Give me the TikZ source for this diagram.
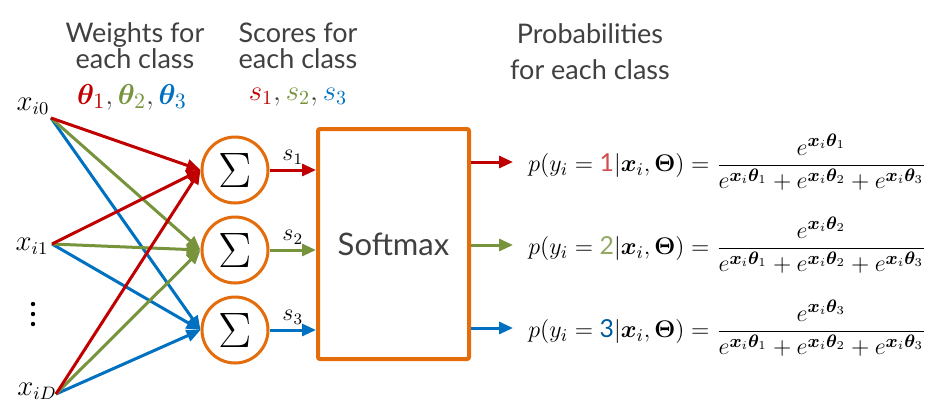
\documentclass[tikz,border=0pt]{standalone}
\usepackage{amsmath,bm}
\usepackage[no-math]{fontspec}
\newfontfamily\kopfont{Lato}
\usetikzlibrary{arrows.meta,positioning,calc}
\definecolor{rood}{HTML}{C00000}
\definecolor{groen}{HTML}{77933C}
\definecolor{blauw}{HTML}{0070C0}
\definecolor{oranje}{HTML}{E46C0A}
\definecolor{tekst}{HTML}{404040}
\tikzset{
  som/.style={circle,draw=oranje,line width=1.5pt,minimum size=33pt,inner sep=0pt,font=\fontsize{24}{24}\selectfont},
  blok/.style={draw=oranje,line width=2pt,rounded corners=1pt,minimum width=75.5pt,minimum height=115pt,font=\kopfont\fontsize{15.5}{15.5}\selectfont,text=tekst},
  pijl/.style={line width=1.5pt,-{Triangle[length=7pt,width=6pt]}},
  kop/.style={align=center,text=tekst,font=\kopfont\fontsize{13.5}{13}\selectfont},
  inv/.style={font=\fontsize{13.5}{13.5}\selectfont},
  slab/.style={font=\fontsize{12}{12}\selectfont,inner sep=2pt,text=black},
  kans/.style={anchor=west,inner xsep=7.5pt,font=\fontsize{12.4}{14}\selectfont},
}
\newcommand{\ex}[1]{e^{\bm{x}_i\bm{\theta}_{#1}}}
\newcommand{\noemer}{\ex{1}+\ex{2}+\ex{3}}

\begin{document}
\begin{tikzpicture}[x=0.5pt,y=-0.5pt]
  \useasboundingbox (0,0) rectangle (946,414);
  % kopjes
  \node[kop] (gew) at (135,46) {Weights for\\each class};
  \node[kop] (sco) at (298,46) {Scores for\\each class};
  \node[kop] (prob) at (590,52) {Probabilities\\[5pt]for each class};
  \node[font=\fontsize{15}{15}\selectfont] (thetas) at (132,97)
    {$\color{rood}\bm{\theta}_1\color{tekst},\color{groen}\bm{\theta}_2\color{tekst},\color{blauw}\bm{\theta}_3$};
  \node[font=\fontsize{14.5}{14.5}\selectfont] (scores) at (298,97)
    {$\color{rood}s_1\color{tekst},\color{groen}s_2\color{tekst},\color{blauw}s_3$};
  % invoer
  \node[inv] (x0) at (33,106) {$x_{i0}$};
  \node[inv] (x1) at (32,246) {$x_{i1}$};
  \node[inv] (xd) at (37,391) {$x_{iD}$};
  \coordinate (dots) at (33,314);
  \foreach \d in {-10,0,10}
    \fill ($(dots)+(0,\d)$) circle (2.2);
  \coordinate (i0) at (51,118);
  \coordinate (i1) at (52,244);
  \coordinate (iD) at (56,394);
  % sommen en softmax
  \node[som] (sg1) at (235,170) {$\Sigma$};
  \node[som,below=5.5pt of sg1] (sg2) {$\Sigma$};
  \node[som,below=5.5pt of sg2] (sg3) {$\Sigma$};
  \node[blok] (sm) at (393.5,244) {Softmax};
  \foreach \k/\kl in {3/blauw,2/groen,1/rood}
    \foreach \b in {i0,i1,iD}
      \draw[pijl,\kl] (\b) -- (sg\k.west);
  \draw[pijl,rood] (sg1) -- (sg1 -| sm.west) node[midway,above,slab] {$s_1$};
  \draw[pijl,groen] (sg2) -- (sg2 -| sm.west) node[midway,above,slab] {$s_2$};
  \draw[pijl,blauw] (sg3) -- (sg3 -| sm.west) node[midway,above,slab] {$s_3$};
  % kansen
  \node[kans] (p1) at (513,162)
    {$p(y_i = \text{\kopfont\color{rood!70}1}|\bm{x}_i,\bm{\Theta}) = \dfrac{\ex{1}}{\noemer}$};
  \node[kans] (p2) at (513,245)
    {$p(y_i = \text{\kopfont\color{groen!80}2}|\bm{x}_i,\bm{\Theta}) = \dfrac{\ex{2}}{\noemer}$};
  \node[kans] (p3) at (513,328)
    {$p(y_i = \text{\kopfont\color{blauw!80!black}3}|\bm{x}_i,\bm{\Theta}) = \dfrac{\ex{3}}{\noemer}$};
  \draw[pijl,rood] (sm.east |- p1.west) -- (p1.west);
  \draw[pijl,groen] (sm.east |- p2.west) -- (p2.west);
  \draw[pijl,blauw] (sm.east |- p3.west) -- (p3.west);
\end{tikzpicture}
\end{document}
